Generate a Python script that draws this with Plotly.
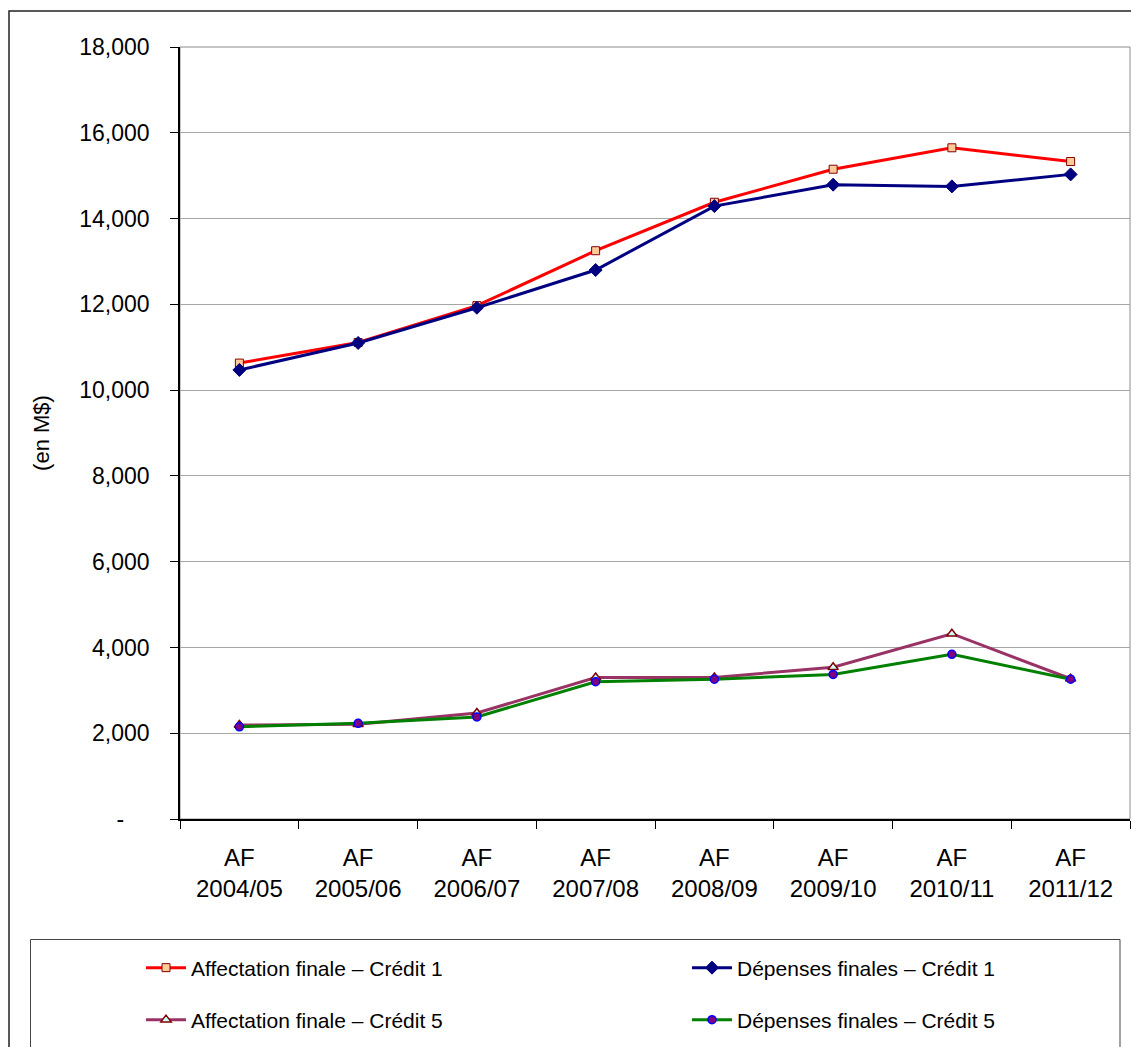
import plotly.graph_objects as go

# Fiscal years (AF = année financière)
years = ["2004/05", "2005/06", "2006/07", "2007/08", "2008/09", "2009/10", "2010/11", "2011/12"]
categories = ["AF<br>" + y for y in years]

# Amounts in M$
affectation_c1 = [10630, 11110, 11970, 13250, 14380, 15150, 15650, 15330]
depenses_c1 = [10470, 11100, 11920, 12800, 14290, 14790, 14750, 15030]
affectation_c5 = [2190, 2210, 2470, 3300, 3300, 3540, 4320, 3270]
depenses_c5 = [2150, 2230, 2380, 3200, 3260, 3370, 3840, 3260]

# Y axis ticks (accounting style: zero shown as a dash)
y_ticks = list(range(0, 18001, 2000))
y_ticktext = ["-\u00a0\u00a0\u00a0\u00a0"] + [f"{v:,}" for v in y_ticks[1:]]

FONT = "Liberation Sans, Arial, sans-serif"
W, H = 1131, 1047
ML, MR, MT, MB = 180, 1, 47, 228
PW, PH = W - ML - MR, H - MT - MB


def px_x(px):
    return (px - ML) / PW


def px_y(py):
    return (H - MB - py) / PH


fig = go.Figure()

fig.add_trace(go.Scatter(
    x=categories, y=affectation_c1, mode="lines+markers",
    name="Affectation finale \u2013 Crédit 1",
    line=dict(color="#ff0000", width=3),
    marker=dict(symbol="square", size=8, color="#ffcc99", line=dict(color="#800000", width=1)),
    legend="legend",
))
fig.add_trace(go.Scatter(
    x=categories, y=depenses_c1, mode="lines+markers",
    name="Dépenses finales \u2013 Crédit 1",
    line=dict(color="#000080", width=3),
    marker=dict(symbol="diamond", size=10, color="#000080", line=dict(color="#000080", width=1)),
    legend="legend",
))
fig.add_trace(go.Scatter(
    x=categories, y=affectation_c5, mode="lines+markers",
    name="Affectation finale \u2013 Crédit 5",
    line=dict(color="#993366", width=3),
    marker=dict(symbol="triangle-up", size=9, color="#ccffff", line=dict(color="#800000", width=1.5)),
    legend="legend2",
))
fig.add_trace(go.Scatter(
    x=categories, y=depenses_c5, mode="lines+markers",
    name="Dépenses finales \u2013 Crédit 5",
    line=dict(color="#008000", width=3),
    marker=dict(symbol="circle", size=8, color="#800080", line=dict(color="#0000ff", width=1.5)),
    legend="legend2",
))

legend_common = dict(
    orientation="h", xanchor="left", yanchor="middle",
    entrywidth=491, entrywidthmode="pixels", itemwidth=40,
    font=dict(family=FONT, size=21, color="#000000"),
    bgcolor="rgba(0,0,0,0)", borderwidth=0,
)

fig.update_layout(
    width=W, height=H,
    margin=dict(l=ML, r=MR, t=MT, b=MB, autoexpand=False),
    paper_bgcolor="white", plot_bgcolor="white",
    font=dict(family=FONT, size=23, color="#000000"),
    legend=dict(x=px_x(141), y=px_y(968), **legend_common),
    legend2=dict(x=px_x(141), y=px_y(1020), **legend_common),
    xaxis=dict(
        type="category", tickson="boundaries", ticks="outside", ticklen=8,
        tickcolor="#000000", showline=True, linecolor="#000000", linewidth=1.5,
        showgrid=False, tickfont=dict(size=24), range=[-0.5, 7.5],
        ticklabelstandoff=16,
    ),
    yaxis=dict(
        range=[0, 18000], tickvals=y_ticks, ticktext=y_ticktext,
        ticks="outside", ticklen=8, tickcolor="#000000",
        showline=True, linecolor="#000000", linewidth=1.5,
        showgrid=True, gridcolor="#a6a6a6", gridwidth=1,
        zeroline=False, tickfont=dict(size=23), ticklabelstandoff=16,
        title=dict(text="(en M$)", font=dict(size=22), standoff=24),
    ),
    shapes=[
        # plot area frame
        dict(type="rect", xref="x domain", yref="y domain", x0=0, x1=1, y0=0, y1=1,
             line=dict(color="#8c8c8c", width=1), layer="below"),
        # outer chart frame
        dict(type="rect", xref="paper", yref="paper",
             x0=px_x(9), x1=px_x(1150), y0=px_y(11), y1=px_y(1070),
             line=dict(color="#222222", width=1.5)),
        # legend frame
        dict(type="rect", xref="paper", yref="paper",
             x0=px_x(30.5), x1=px_x(1120), y0=px_y(939.5), y1=px_y(1070),
             line=dict(color="#444444", width=1)),
    ],
)

fig.write_html("out.html")
